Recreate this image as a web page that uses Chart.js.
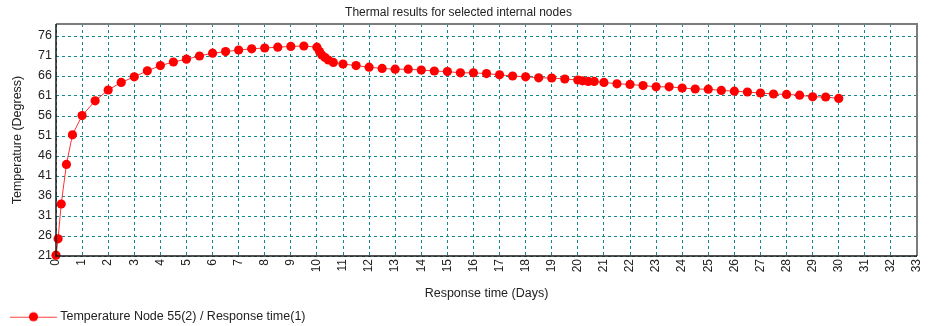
<!DOCTYPE html>
<html>
<head>
<meta charset="utf-8">
<title>Thermal results for selected internal nodes</title>
<script src="https://cdn.jsdelivr.net/npm/chart.js@4/dist/chart.umd.min.js"></script>
<style>
  body { margin: 0; background: #fff; }
  #thermalChart { display: block; }
</style>
</head>
<body>
<canvas id="thermalChart" width="931" height="326"></canvas>
<script>
// response time in days
const responseDays = [
  0, 0.08, 0.2, 0.4, 0.63, 1, 1.5, 2, 2.5, 3, 3.5, 4, 4.5, 5, 5.5, 6, 6.5, 7, 7.5, 8, 8.5, 9, 9.5,
  10, 10.1, 10.19, 10.31, 10.44, 10.63, 11, 11.5, 12, 12.5, 13, 13.5, 14, 14.5, 15, 15.5, 16, 16.5,
  17, 17.5, 18, 18.5, 19, 19.5, 20, 20.18, 20.4, 20.63, 21, 21.5, 22, 22.5, 23, 23.5, 24, 24.5,
  25, 25.5, 26, 26.5, 27, 27.5, 28, 28.5, 29, 29.5, 30,
]

// temperature at node 55
const nodeTemps = [
  21.2, 25.3, 34, 43.9, 51.3, 56.1, 59.8, 62.5, 64.4, 65.8, 67.3, 68.6, 69.5, 70.2, 71, 71.7, 72.1, 72.5, 72.8, 73, 73.2, 73.4, 73.5,
  73.2, 72.1, 71.25, 70.6, 70, 69.4, 69, 68.6, 68.2, 67.9, 67.7, 67.7, 67.5, 67.25, 67.1, 66.8, 66.8, 66.6,
  66.3, 66, 65.8, 65.55, 65.5, 65.25, 65, 64.8, 64.65, 64.65, 64.4, 64.05, 63.9, 63.6, 63.3, 63.3, 63, 62.75,
  62.7, 62.4, 62.2, 62, 61.75, 61.5, 61.4, 61.2, 60.8, 60.75, 60.4,
]

const dayTicks = [0, 1, 2, 3, 4, 5, 6, 7, 8, 9, 10, 11, 12, 13, 14, 15, 16, 17, 18, 19, 20, 21, 22, 23, 24, 25, 26, 27, 28, 29, 30, 31, 32, 33]
const tempTicks = [21, 26, 31, 36, 41, 46, 51, 56, 61, 66, 71, 76]

const seriesLabel = "Temperature Node 55(2) / Response time(1)"
const chartTitle = "Thermal results for selected internal nodes"

Chart.defaults.font.family = "'Liberation Sans', Arial, sans-serif"
Chart.defaults.color = "#222"

// small line-with-dot swatch for the legend
const legendSwatch = document.createElement("canvas")
legendSwatch.width = 60
legendSwatch.height = 12
{
  const g = legendSwatch.getContext("2d")
  g.strokeStyle = "#ff4040"
  g.lineWidth = 1
  g.beginPath()
  g.moveTo(11, 6.5)
  g.lineTo(58, 6.5)
  g.stroke()
  g.fillStyle = "#ff0000"
  g.beginPath()
  g.arc(34.5, 6, 4.6, 0, Math.PI * 2)
  g.fill()
}

// plot frame: grey top/right, dark axes on left/bottom
const plotFrame = {
  id: "plotFrame",
  afterDatasetsDraw(chart) {
    const { ctx, chartArea: a } = chart
    ctx.save()
    ctx.lineWidth = 2
    ctx.strokeStyle = "#7c7c7c"
    ctx.beginPath()
    ctx.moveTo(a.left, a.top)
    ctx.lineTo(a.right, a.top)
    ctx.lineTo(a.right, a.bottom)
    ctx.stroke()
    ctx.lineWidth = 1.5
    ctx.strokeStyle = "#1a1a1a"
    ctx.beginPath()
    ctx.moveTo(a.left, a.top)
    ctx.lineTo(a.left, a.bottom)
    ctx.lineTo(a.right, a.bottom)
    ctx.stroke()
    ctx.restore()
  },
}

const gridColor = "#11898a"

new Chart(document.getElementById("thermalChart"), {
  type: "line",
  data: {
    datasets: [
      {
        label: seriesLabel,
        data: responseDays.map((d, i) => ({ x: d, y: nodeTemps[i] })),
        borderColor: "#ff3030",
        borderWidth: 1,
        pointRadius: 4.6,
        pointBackgroundColor: "#ff0000",
        pointBorderWidth: 0,
        tension: 0,
        clip: false,
      },
    ],
  },
  options: {
    responsive: false,
    animation: false,
    layout: { padding: { left: 0, right: 14, top: 0, bottom: -7 } },
    scales: {
      x: {
        type: "linear",
        min: 0,
        max: 33,
        afterBuildTicks: scale => {
          scale.ticks = dayTicks.map(v => ({ value: v }))
        },
        afterFit: scale => {
          scale.height = 50.5
          // rotated end label would otherwise pull the right edge in
          scale.paddingRight = 0
        },
        ticks: {
          autoSkip: false,
          maxRotation: 90,
          minRotation: 90,
          padding: 3,
          font: { size: 12 },
          color: "#222",
        },
        grid: { color: gridColor, lineWidth: 1, drawTicks: false },
        border: { display: false, dash: [3, 3] },
        title: {
          display: true,
          text: "Response time (Days)",
          font: { size: 12.5 },
          color: "#222",
          padding: { top: 0, bottom: 5 },
        },
      },
      y: {
        type: "linear",
        min: 21,
        max: 79,
        afterBuildTicks: scale => {
          scale.ticks = tempTicks.map(v => ({ value: v }))
        },
        afterFit: scale => {
          scale.width = 56
        },
        ticks: {
          autoSkip: false,
          padding: 4,
          font: { size: 12.5 },
          color: "#222",
        },
        grid: { color: gridColor, lineWidth: 1, drawTicks: false },
        border: { display: false, dash: [3, 3] },
        title: {
          display: true,
          text: "Temperature (Degress)",
          font: { size: 12.5 },
          color: "#222",
          padding: { top: 10, bottom: 0 },
        },
      },
    },
    plugins: {
      title: {
        display: true,
        text: chartTitle,
        font: { size: 12, weight: "normal" },
        color: "#222",
        padding: { top: 5, bottom: 4.6 },
      },
      legend: {
        position: "bottom",
        align: "start",
        labels: {
          usePointStyle: true,
          pointStyleWidth: 50,
          padding: 4,
          font: { size: 12.5 },
          color: "#222",
          generateLabels: () => [
            {
              text: seriesLabel,
              pointStyle: legendSwatch,
              fontColor: "#222",
              datasetIndex: 0,
              hidden: false,
              lineWidth: 0,
            },
          ],
        },
      },
      tooltip: { enabled: false },
    },
  },
  plugins: [plotFrame],
})
</script>
</body>
</html>
